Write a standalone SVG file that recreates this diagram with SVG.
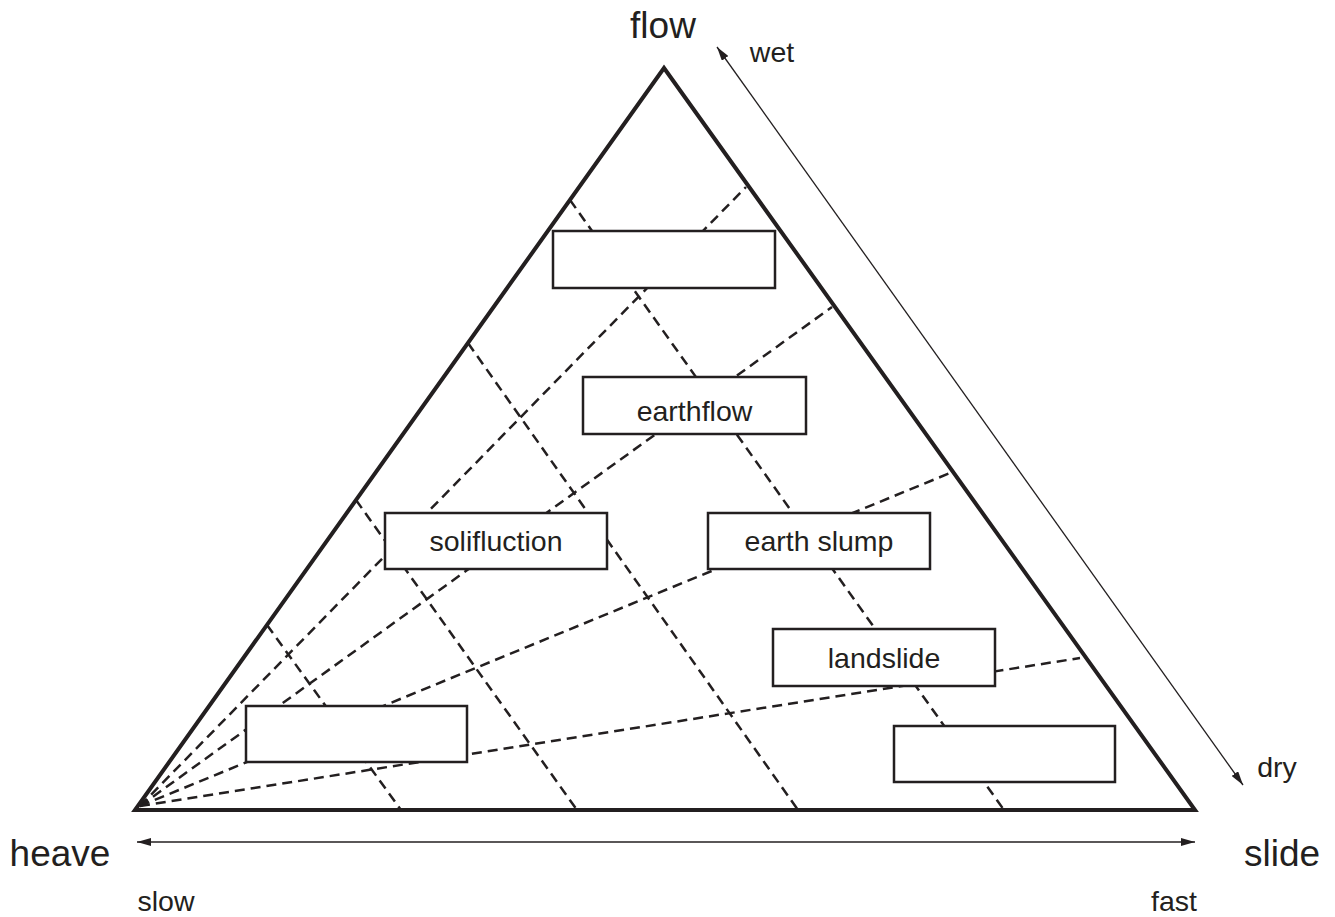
<svg xmlns="http://www.w3.org/2000/svg" width="1335" height="917" viewBox="0 0 1335 917">
<style>
.tri{fill:none;stroke:#231f20;stroke-width:4;stroke-linejoin:miter}
.dash{fill:none;stroke:#231f20;stroke-width:2.5;stroke-dasharray:10,6}
.box{fill:#fff;stroke:#231f20;stroke-width:2.5}
.arr{fill:none;stroke:#231f20;stroke-width:1.3}
.lbl{font-family:"Liberation Sans",Arial,sans-serif;font-size:28.5px;fill:#231f20;text-anchor:middle}
.big{font-family:"Liberation Sans",Arial,sans-serif;font-size:37px;fill:#231f20;text-anchor:middle}
</style>
<defs>
<marker id="ah" viewBox="0 0 14 8" refX="14" refY="4" markerWidth="14" markerHeight="8" markerUnits="userSpaceOnUse" orient="auto-start-reverse">
<path d="M0,0 L14,4 L0,8 Z" fill="#231f20"/>
</marker>
</defs>
<g id="connectors">
<line class="dash" x1="570" y1="200" x2="1004" y2="810"/>
<line class="dash" x1="468" y1="343" x2="798" y2="810"/>
<line class="dash" x1="356" y1="500" x2="577" y2="810"/>
<line class="dash" x1="267" y1="625" x2="401" y2="810"/>
<line class="dash" x1="140" y1="806" x2="746" y2="187"/>
<line class="dash" x1="140" y1="806" x2="832" y2="307"/>
<line class="dash" x1="140" y1="806" x2="950" y2="473"/>
<line class="dash" x1="140" y1="806" x2="1080" y2="658"/>
<line class="arr" x1="717" y1="47" x2="1243" y2="785" marker-start="url(#ah)" marker-end="url(#ah)"/>
<line class="arr" x1="137" y1="842" x2="1195" y2="842" marker-start="url(#ah)" marker-end="url(#ah)"/>
</g>
<g id="triangle">
<polygon class="tri" points="664,68 1195,810 135,810"/>
</g>
<g id="box-top"><rect class="box" x="553" y="231" width="222" height="57"/></g>
<g id="box-earthflow"><rect class="box" x="583" y="377" width="223" height="57"/><text class="lbl" x="694.5" y="421">earthflow</text></g>
<g id="box-solifluction"><rect class="box" x="385" y="513" width="222" height="56"/><text class="lbl" x="496" y="551">solifluction</text></g>
<g id="box-earthslump"><rect class="box" x="708" y="513" width="222" height="56"/><text class="lbl" x="819" y="551">earth slump</text></g>
<g id="box-landslide"><rect class="box" x="773" y="629" width="222" height="57"/><text class="lbl" x="884" y="668">landslide</text></g>
<g id="box-bottomleft"><rect class="box" x="246" y="706" width="221" height="56"/></g>
<g id="box-bottomright"><rect class="box" x="894" y="726" width="221" height="56"/></g>
<g id="labels">
<text class="big" x="663" y="38">flow</text>
<text class="big" x="60" y="866">heave</text>
<text class="big" x="1282" y="866">slide</text>
<text class="lbl" x="772" y="62" font-size="26">wet</text>
<text class="lbl" x="1277" y="777" font-size="26">dry</text>
<text class="lbl" x="166" y="911" font-size="26">slow</text>
<text class="lbl" x="1174" y="911" font-size="26">fast</text>
</g>
</svg>
